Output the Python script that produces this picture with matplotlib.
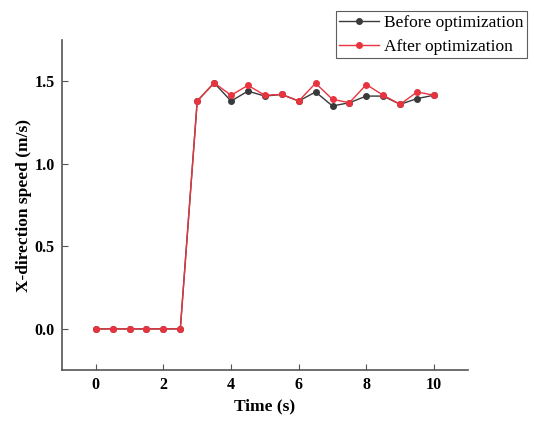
""" X-direction speed before and after optimization. """

import matplotlib
matplotlib.use("Agg")
import matplotlib.pyplot as plt
from matplotlib.ticker import FormatStrFormatter

time_s = [0, 0.5, 1, 1.5, 2, 2.5, 3, 3.5, 4, 4.5, 5, 5.5, 6, 6.5, 7, 7.5, 8, 8.5, 9, 9.5, 10]
speed_before = [0, 0, 0, 0, 0, 0, 1.38, 1.49, 1.38, 1.44, 1.41, 1.42, 1.38, 1.435,
                1.35, 1.37, 1.41, 1.41, 1.36, 1.395, 1.415]
speed_after = [0, 0, 0, 0, 0, 0, 1.38, 1.49, 1.415, 1.475, 1.415, 1.42, 1.38, 1.488,
               1.39, 1.37, 1.48, 1.415, 1.36, 1.435, 1.415]
x_ticks = [0, 2, 4, 6, 8, 10]
y_ticks = [0.0, 0.5, 1.0, 1.5]


def main():
    plt.rcParams['font.family'] = ['Liberation Serif', 'DejaVu Serif']
    fig = plt.figure(figsize=(5.34, 4.25), dpi=100)
    ax = fig.add_axes([0.116, 0.129, 0.760, 0.777])

    ax.plot(time_s, speed_before, color='#3a3a3a', marker='o', markersize=4,
            linewidth=1.0, label='Before optimization')
    ax.plot(time_s, speed_after, color='#e8343f', marker='o', markersize=4,
            linewidth=1.0, label='After optimization')

    ax.set_xlim(-1, 11)
    ax.set_ylim(-0.25, 1.75)
    ax.set_xticks(x_ticks)
    ax.set_yticks(y_ticks)
    ax.yaxis.set_major_formatter(FormatStrFormatter('%.1f'))

    for side in ['top', 'right']:
        ax.spines[side].set_visible(False)
    for side in ['left', 'bottom']:
        ax.spines[side].set_color('#555555')
        ax.spines[side].set_linewidth(1.2)
    ax.tick_params(direction='in', length=4, width=0.8, colors='#555555',
                   labelcolor='black', labelsize=11.5, pad=5)
    for lbl in ax.get_xticklabels() + ax.get_yticklabels():
        lbl.set_fontweight('bold')

    ax.set_xlabel('Time (s)', fontsize=12.5, fontweight='bold')
    ax.set_ylabel('X-direction speed (m/s)', fontsize=12.5, fontweight='bold',
                  labelpad=2)

    leg = fig.legend(loc='upper left', bbox_to_anchor=(0.629, 0.974), fontsize=12.5,
                     frameon=True, fancybox=False, handlelength=2.3,
                     handletextpad=0.25, borderpad=0.2, labelspacing=0.45,
                     borderaxespad=0)
    leg.get_frame().set_edgecolor('#333333')
    leg.get_frame().set_linewidth(0.8)

    fig.savefig('out.png', dpi=100)


if __name__ == "__main__":
    main()
